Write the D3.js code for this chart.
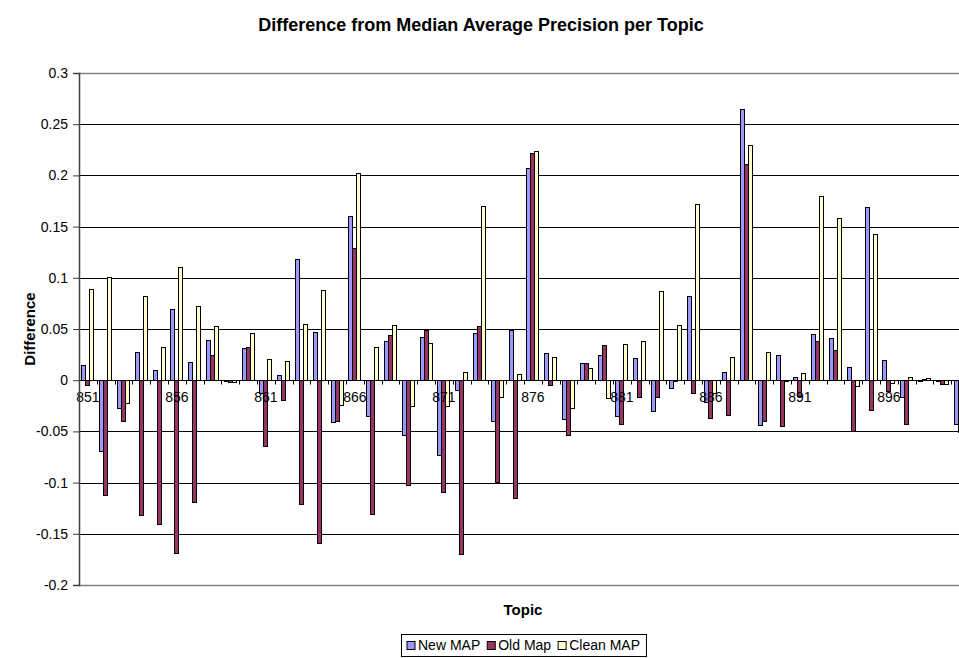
<!DOCTYPE html>
<html>
<head>
<meta charset="utf-8">
<script src="https://cdn.jsdelivr.net/npm/d3@7/dist/d3.min.js"></script>
<style>
    body { margin: 0; background: #fff; }
    svg text { font-family: Arial, "Liberation Sans", sans-serif; fill: #000; }
</style>
</head>
<body>
<div id="chart"></div>
<script>
// topics on the x axis
const topics = [851, 852, 853, 854, 855, 856, 857, 858, 859, 860,
    861, 862, 863, 864, 865, 866, 867, 868, 869, 870,
    871, 872, 873, 874, 875, 876, 877, 878, 879, 880,
    881, 882, 883, 884, 885, 886, 887, 888, 889, 890,
    891, 892, 893, 894, 895, 896, 897, 898, 899, 900]
const labelTopics = [851, 856, 861, 866, 871, 876, 881, 886, 891, 896]

const seriesNames = ["New MAP", "Old Map", "Clean MAP"]
const seriesColors = ["#9999ff", "#993366", "#ffffcc"]

const newMap = [0.014, -0.070, -0.028, 0.0275, 0.009, 0.069, 0.017, 0.039, -0.001, 0.031,
    -0.013, 0.005, 0.118, 0.047, -0.041, 0.160, -0.035, 0.038, -0.054, 0.042,
    -0.074, -0.010, 0.046, -0.040, 0.049, 0.207, 0.026, -0.038, 0.016, 0.024,
    -0.035, 0.021, -0.031, -0.008, 0.082, -0.022, 0.008, 0.264, -0.044, 0.024,
    0.003, 0.045, 0.041, 0.012, 0.169, 0.019, -0.017, -0.001, -0.001, -0.043]
const oldMap = [-0.005, -0.113, -0.040, -0.132, -0.141, -0.169, -0.119, 0.024, -0.002, 0.032,
    -0.065, -0.020, -0.121, -0.159, -0.040, 0.129, -0.131, 0.044, -0.103, 0.049,
    -0.110, -0.170, 0.052, -0.100, -0.116, 0.221, -0.005, -0.054, 0.016, 0.034,
    -0.043, -0.017, -0.017, -0.001, -0.013, -0.037, -0.034, 0.211, -0.040, -0.045,
    -0.016, 0.038, 0.029, -0.050, -0.030, -0.011, -0.043, 0.001, -0.004, -0.051]
const cleanMap = [0.089, 0.100, -0.023, 0.082, 0.032, 0.110, 0.072, 0.052, -0.002, 0.046,
    0.020, 0.018, 0.054, 0.088, -0.025, 0.202, 0.032, 0.053, -0.026, 0.036,
    -0.026, 0.008, 0.170, -0.017, 0.006, 0.223, 0.022, -0.028, 0.011, -0.018,
    0.035, 0.038, 0.087, 0.053, 0.172, -0.013, 0.022, 0.229, 0.027, -0.001,
    0.007, 0.179, 0.158, -0.006, 0.142, -0.003, 0.003, 0.002, -0.004, -0.003]

const yTicks = [-0.2, -0.15, -0.1, -0.05, 0, 0.05, 0.1, 0.15, 0.2, 0.25, 0.3]

const width = 959, height = 658
const margin = {left: 79, top: 73}
const plotW = 890, plotH = 512   // plot runs past the right edge, as in the original

const svg = d3.select("#chart").append("svg")
    .attr("width", width)
    .attr("height", height)

const x = d3.scaleBand()
    .domain(topics)
    .range([margin.left, margin.left + plotW])
    .paddingInner(1 / 3)
    .paddingOuter(1 / 6)
const xs = d3.scaleBand()
    .domain(seriesNames)
    .range([0, x.bandwidth()])
const y = d3.scaleLinear()
    .domain([-0.2, 0.3])
    .range([margin.top + plotH, margin.top])

// gridlines
svg.append("g")
    .selectAll("line")
    .data(yTicks)
    .enter().append("line")
    .attr("x1", margin.left)
    .attr("x2", margin.left + plotW)
    .attr("y1", d => Math.round(y(d)) + 0.5)
    .attr("y2", d => Math.round(y(d)) + 0.5)
    .attr("stroke", (d, i) => (i === 0 || i === yTicks.length - 1) ? "#808080" : "#000")
    .attr("stroke-width", (d, i) => (i === 0 || i === yTicks.length - 1) ? 1.5 : 1)

// bars
const values = [newMap, oldMap, cleanMap]
const barData = []
topics.forEach(function (t, i) {
    seriesNames.forEach(function (s, j) {
        barData.push({topic: t, series: s, value: values[j][i], color: seriesColors[j]})
    })
})

svg.append("g")
    .selectAll("rect")
    .data(barData)
    .enter().append("rect")
    .attr("x", d => x(d.topic) + xs(d.series))
    .attr("y", d => y(Math.max(0, d.value)))
    .attr("width", xs.bandwidth())
    .attr("height", d => Math.abs(y(d.value) - y(0)))
    .attr("fill", d => d.color)
    .attr("stroke", "#000")
    .attr("stroke-width", 1)
    .attr("shape-rendering", "crispEdges")

// zero axis with category ticks
const y0 = Math.round(y(0)) + 0.5
svg.append("line")
    .attr("x1", margin.left).attr("x2", margin.left + plotW)
    .attr("y1", y0).attr("y2", y0)
    .attr("stroke", "#000")

svg.append("g")
    .selectAll("line")
    .data(topics)
    .enter().append("line")
    .attr("x1", d => Math.round(x(d) - x.step() * x.paddingInner() / 2) + 0.5)
    .attr("x2", d => Math.round(x(d) - x.step() * x.paddingInner() / 2) + 0.5)
    .attr("y1", y0)
    .attr("y2", y0 + 4)
    .attr("stroke", "#000")

const xAxis = svg.append("g")
    .attr("transform", `translate(0, ${y0})`)
    .call(d3.axisBottom(x).tickValues(labelTopics).tickSize(0).tickPadding(12))
xAxis.select(".domain").remove()
xAxis.selectAll("text").style("font-size", "14px")

// y axis
const yAxis = svg.append("g")
    .attr("transform", `translate(${margin.left}, 0)`)
    .call(d3.axisLeft(y).tickValues(yTicks).tickSize(6).tickPadding(5).tickFormat(d => String(d)))
yAxis.select(".domain").attr("stroke", "#404040").attr("stroke-width", 1.5)
yAxis.selectAll(".tick line").attr("stroke", "#404040")
yAxis.selectAll("text").style("font-size", "14px")

// titles
svg.append("text")
    .attr("x", 481).attr("y", 25)
    .attr("dy", "0.35em")
    .attr("text-anchor", "middle")
    .style("font-size", "18px")
    .style("font-weight", "bold")
    .text("Difference from Median Average Precision per Topic")

svg.append("text")
    .attr("x", margin.left + plotW / 2 - 1).attr("y", 610)
    .attr("dy", "0.35em")
    .attr("text-anchor", "middle")
    .style("font-size", "15px")
    .style("font-weight", "bold")
    .text("Topic")

svg.append("text")
    .attr("transform", `translate(30, ${margin.top + plotH / 2}) rotate(-90)`)
    .attr("dy", "0.35em")
    .attr("text-anchor", "middle")
    .style("font-size", "15px")
    .style("font-weight", "bold")
    .text("Difference")

// legend
const legend = svg.append("g")
const items = legend.selectAll("g")
    .data(seriesNames)
    .enter().append("g")
items.append("rect")
    .attr("width", 8).attr("height", 8)
    .attr("fill", (d, i) => seriesColors[i])
    .attr("stroke", "#000")
items.append("text")
    .attr("x", 11).attr("y", 4)
    .attr("dy", "0.35em")
    .style("font-size", "14px")
    .text(d => d)

let cursor = 6
items.each(function () {
    const w = this.querySelector("text").getComputedTextLength()
    d3.select(this).attr("transform", `translate(${cursor}, 7.5)`)
    cursor += 11 + w + 7
})
const legendW = cursor - 1
const legendX = Math.round(523 - legendW / 2)
legend.attr("transform", `translate(${legendX}, 634)`)
legend.insert("rect", ":first-child")
    .attr("x", 0.5).attr("y", 0.5)
    .attr("width", legendW).attr("height", 22)
    .attr("fill", "#fff")
    .attr("stroke", "#000")
</script>
</body>
</html>
